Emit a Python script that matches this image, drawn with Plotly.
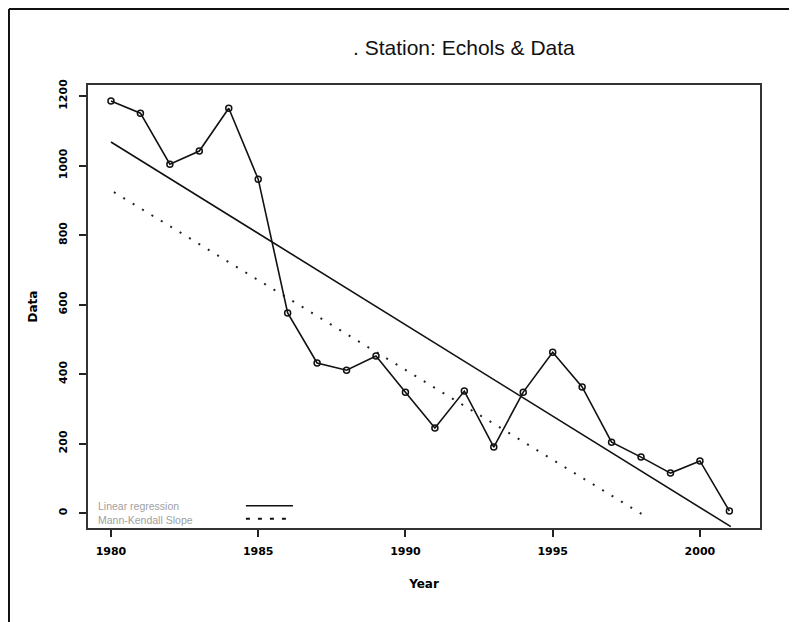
import numpy as np
import plotly.graph_objects as go

years = list(range(1980, 2002))
values = [1186, 1151, 1004, 1042, 1165, 961, 576, 432, 411, 452,
          348, 245, 351, 190, 348, 463, 363, 204, 161, 115, 150, 6]

# trend lines: value at 1980, slope per year, last year drawn
reg_intercept, reg_slope, reg_end = 1068, -52.6, 2001.05
mk_intercept, mk_slope, mk_end = 929, -51.7, 1998.2

x_ticks = [1980, 1985, 1990, 1995, 2000]
y_ticks = [0, 200, 400, 600, 800, 1000, 1200]

reg_x = np.array([1980, reg_end])
reg_y = reg_intercept + reg_slope * (reg_x - 1980)
mk_x = np.array([1980.1, mk_end])
mk_y = mk_intercept + mk_slope * (mk_x - 1980)

fig = go.Figure()
fig.add_trace(go.Scatter(x=reg_x, y=reg_y, mode="lines",
                         line=dict(color="#111", width=1.6), showlegend=False))
fig.add_trace(go.Scatter(x=mk_x, y=mk_y, mode="lines",
                         line=dict(color="#222", width=2, dash="2px,9px"), showlegend=False))
fig.add_trace(go.Scatter(x=years, y=values, mode="lines+markers",
                         line=dict(color="#111", width=1.6),
                         marker=dict(symbol="circle-open", size=6, color="#111",
                                     line=dict(width=1.5)),
                         showlegend=False))

tick_font = dict(family="DejaVu Sans", size=11, color="black", weight="bold")
axis_font = dict(family="DejaVu Sans", size=12, color="black")

# the page puts the figure 8px in from the corner, margins allow for that
fig.update_layout(
    width=797, height=622,
    margin=dict(l=80, r=45, t=77, b=102),
    paper_bgcolor="white", plot_bgcolor="white",
    title=dict(text=". Station: Echols & Data", x=0.572, xanchor="center",
               y=0.937, yanchor="middle",
               font=dict(family="Liberation Sans", size=21, color="#111")),
    xaxis=dict(range=[1979.22, 2002.04], tickvals=x_ticks, ticks="outside",
               ticklen=7, tickwidth=1.5, tickcolor="#222",
               showline=True, linecolor="#333", linewidth=2, mirror=True,
               showgrid=False, zeroline=False, ticklabelstandoff=5,
               tickfont=tick_font,
               title=dict(text="<b>Year</b>", font=axis_font, standoff=22)),
    yaxis=dict(range=[-43, 1232], tickvals=y_ticks, ticks="outside",
               ticklen=7, tickwidth=1.5, tickcolor="#222", tickangle=-90,
               showline=True, linecolor="#333", linewidth=2, mirror=True,
               showgrid=False, zeroline=False, ticklabelstandoff=8,
               tickfont=tick_font,
               title=dict(text="<b>Data</b>", font=axis_font, standoff=16)),
)

# legend-like key in lower-left corner
fig.add_annotation(text="Linear regression", xref="paper", yref="paper",
                   x=0.012, y=0.05, xanchor="left", yanchor="middle", showarrow=False,
                   font=dict(family="Liberation Sans", size=10.5, color="#a0a0a0"))
fig.add_annotation(text="Mann-Kendall Slope", xref="paper", yref="paper",
                   x=0.012, y=0.018, xanchor="left", yanchor="middle", showarrow=False,
                   font=dict(family="Liberation Sans", size=10.5, color="#a0a0a0"))
fig.add_shape(type="line", xref="paper", yref="paper", x0=0.235, x1=0.305,
              y0=0.05, y1=0.05, line=dict(color="#111", width=1.5))
fig.add_shape(type="line", xref="paper", yref="paper", x0=0.235, x1=0.305,
              y0=0.021, y1=0.021, line=dict(color="#111", width=2, dash="4px,8px"))

# outer frame of the picture (top and left edges)
fig.add_shape(type="line", xref="paper", yref="paper", x0=-0.1176, x1=1.08,
              y0=1.1716, y1=1.1716, line=dict(color="#111", width=2))
fig.add_shape(type="line", xref="paper", yref="paper", x0=-0.1176, x1=-0.1176,
              y0=1.1716, y1=-0.25, line=dict(color="#111", width=2))

fig.write_html("out.html")
